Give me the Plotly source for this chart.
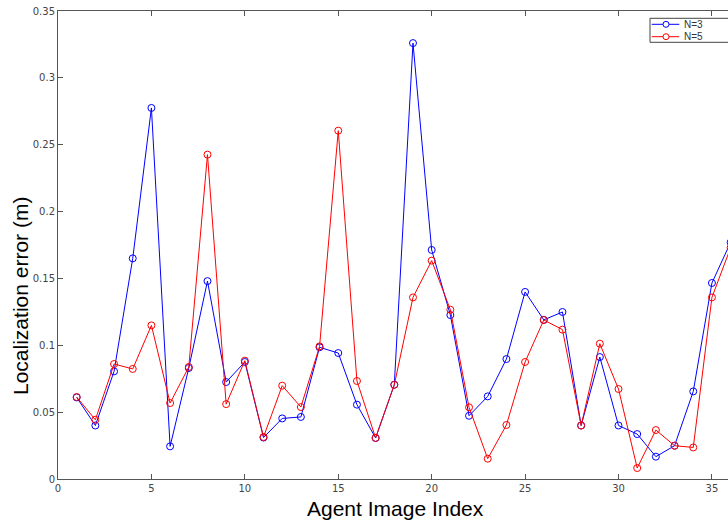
import plotly.graph_objects as go

idx = list(range(1, 37))
err_n3 = [0.061, 0.040, 0.0805, 0.165, 0.2775, 0.0244, 0.083, 0.148, 0.0725, 0.0875,
          0.031, 0.0453, 0.0464, 0.0985, 0.0942, 0.0556, 0.0307, 0.0705, 0.326, 0.1713,
          0.1226, 0.0473, 0.0618, 0.0897, 0.1399, 0.119, 0.1249, 0.040, 0.0912, 0.040,
          0.0336, 0.0167, 0.0249, 0.0655, 0.1466, 0.177]
err_n5 = [0.0613, 0.0443, 0.086, 0.0823, 0.1149, 0.0568, 0.0838, 0.2426, 0.056, 0.0885,
          0.0314, 0.0698, 0.0538, 0.0992, 0.2605, 0.0733, 0.0307, 0.0705, 0.1358, 0.1633,
          0.1266, 0.0536, 0.0152, 0.0404, 0.0875, 0.1189, 0.1117, 0.040, 0.1012, 0.0673,
          0.0082, 0.0366, 0.0249, 0.0236, 0.1358, 0.173]
series_names = ["N=3", "N=5"]
series_colors = ["#0000ff", "#ff0000"]
x_ticks = [0, 5, 10, 15, 20, 25, 30, 35]
y_ticks = [0, 0.05, 0.1, 0.15, 0.2, 0.25, 0.3, 0.35]
y_tick_text = ["0", "0.05", "0.1", "0.15", "0.2", "0.25", "0.3", "0.35"]
x_title = "Agent Image Index"
y_title = "Localization error (m)"

# plot-area geometry in pixels (for converting layout positions to paper coords)
W, H = 728, 521
L, R, T, B = 58, 0, 11, 42
PW, PH = W - L - R, H - T - B


def px(x):
    return (x - L) / PW


def py(y):
    return (H - B - y) / PH


fig = go.Figure()
for name, ys, col in zip(series_names, [err_n3, err_n5], series_colors):
    fig.add_trace(go.Scatter(x=idx, y=ys, name=name, mode="lines+markers",
                             line=dict(color=col, width=1),
                             marker=dict(symbol="circle-open", size=7, color=col, line=dict(width=1))))

axis_common = dict(showgrid=False, zeroline=False, showline=True, linecolor="#555555", linewidth=1,
                   ticks="inside", ticklen=5, tickcolor="#555555", automargin=False,
                   tickfont=dict(family="DejaVu Sans", size=10, color="#444444"))

title_font = dict(family="Liberation Sans", size=21, color="#000000")

# MATLAB-style compact legend box (drawn as layout decorations)
shapes = [dict(type="rect", xref="paper", yref="paper", x0=px(650), x1=px(760), y0=py(42.3), y1=py(18.3),
               line=dict(color="#444444", width=1), fillcolor="white", layer="above")]
annotations = [
    dict(text=x_title, xref="paper", yref="paper", x=px(395.5), y=py(508),
         xanchor="center", yanchor="middle", showarrow=False, font=title_font),
    dict(text=y_title, xref="paper", yref="paper", x=px(20), y=py(296), textangle=-90,
         xanchor="center", yanchor="middle", showarrow=False, font=title_font),
]
for i, (name, col) in enumerate(zip(series_names, series_colors)):
    yc = 24.3 + i * 12.4
    shapes.append(dict(type="line", xref="paper", yref="paper", x0=px(651.7), x1=px(679.3),
                       y0=py(yc), y1=py(yc), line=dict(color=col, width=1), layer="above"))
    shapes.append(dict(type="circle", xref="paper", yref="paper", x0=px(663), x1=px(669),
                       y0=py(yc + 3), y1=py(yc - 3), line=dict(color=col, width=1),
                       fillcolor="white", layer="above"))
    annotations.append(dict(text=name, xref="paper", yref="paper", x=px(682), y=py(yc),
                            xanchor="left", yanchor="middle", showarrow=False,
                            font=dict(family="Liberation Sans", size=10, color="#333333")))

fig.update_layout(
    width=W, height=H,
    margin=dict(l=L, r=R, t=T, b=B, autoexpand=False),
    paper_bgcolor="white", plot_bgcolor="white",
    xaxis=dict(range=[0, 35.86], tickvals=x_ticks, mirror="ticks", **axis_common),
    yaxis=dict(range=[0, 0.35], tickvals=y_ticks, ticktext=y_tick_text, **axis_common),
    showlegend=False,
    shapes=shapes,
    annotations=annotations,
)

fig.write_html("out.html", config={"displayModeBar": False},
               post_script="document.body.style.margin='0';")
